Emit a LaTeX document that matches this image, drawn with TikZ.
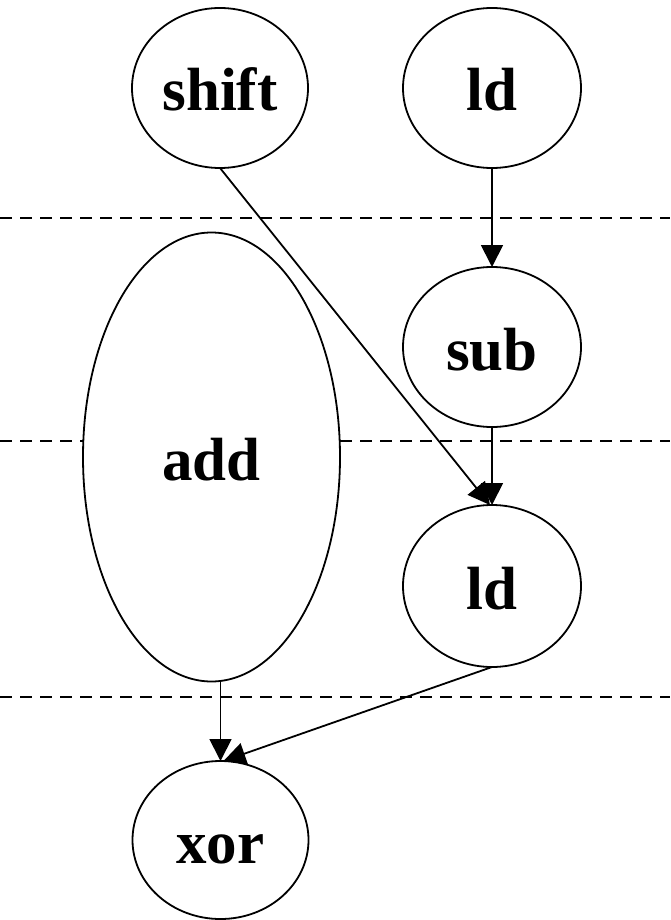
\documentclass[tikz,border=0pt]{standalone}
\usepackage{fontspec}
\setmainfont{Liberation Serif}
\usetikzlibrary{shapes.geometric,arrows.meta}
\begin{document}
\begin{tikzpicture}[x=1pt,y=-1pt,
  op/.style={ellipse,draw,line width=1.8pt,fill=white,inner sep=0pt,outer sep=0pt,
    font=\fontsize{61}{61}\selectfont\bfseries,text height=46pt,text depth=0pt},
  sep/.style={line width=2.5pt,dash pattern=on 12pt off 8pt},
  edge/.style={line width=1.8pt,-{Triangle[length=22pt,width=22pt]}}]
\useasboundingbox (0,0) rectangle (670,920);
\draw[sep] (0,218) -- (670,218);
\draw[sep] (0,441) -- (670,441);
\draw[sep] (0,697) -- (670,697);
\node[op,minimum width=176pt,minimum height=160pt] (shift) at (220,88) {shift};
\node[op,minimum width=178pt,minimum height=160pt] (ld1) at (492,88) {ld};
\node[op,minimum width=178pt,minimum height=160pt] (sub) at (492,347) {sub};
\node[op,minimum width=257pt,minimum height=449pt] (add) at (211.5,457) {add};
\node[op,minimum width=178pt,minimum height=162pt] (ld2) at (492,586) {ld};
\node[op,minimum width=176pt,minimum height=158pt] (xor) at (220.5,840) {xor};
\draw[edge] (ld1.south) -- (sub.north);
\draw[edge] (sub.south) -- (ld2.north);
\draw[edge] (shift.south) -- ([xshift=-2pt]ld2.north);
\draw[edge] (add.south -| xor.north) -- (xor.north);
\draw[edge] (ld2.south) -- ([xshift=3pt]xor.north);
\end{tikzpicture}
\end{document}
